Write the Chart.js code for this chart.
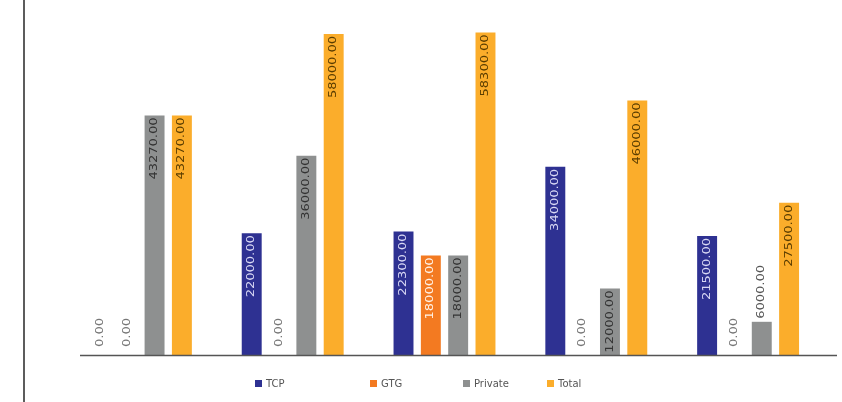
<!DOCTYPE html>
<html lang="en">
<head>
    <meta charset="UTF-8">
    <title>TCP / GTG / Private / Total</title>
    <style>
        body { margin: 0; background: #fff; }
        .wrap { position: relative; width: 842px; height: 402px; }
        .frame { position: absolute; left: 23px; top: 0; width: 2px; height: 402px; background: #5c5c5c; }
    </style>
</head>
<body>
    <div class="wrap">
        <div class="frame"></div>
        <canvas id="grafico"></canvas>
    </div>

    <script src="https://cdn.jsdelivr.net/npm/chart.js"></script>
    <script>
        // Data
        const categorias = ['1', '2', '3', '4', '5'];
        const tcp     = [0, 22000, 22300, 34000, 21500];
        const gtg     = [0, 0, 18000, 0, 0];
        const privado = [43270, 36000, 18000, 12000, 6000];
        const total   = [43270, 58000, 58300, 46000, 27500];

        const cores = ['#2e3192', '#f37a21', '#8e9090', '#fbad2b'];
        const coresTexto = ['#d8d8f4', '#fff2e6', '#333333', '#5a3d00'];
        const legendaX = [255, 370, 463, 547];
        const esticar = 1.3;

        // Vertical value labels inside the top of each bar
        const rotulos = {
            id: 'rotulos',
            afterDatasetsDraw(chart) {
                const ctx = chart.ctx;
                const base = chart.scales.y.getPixelForValue(0);
                chart.data.datasets.forEach((ds, i) => {
                    chart.getDatasetMeta(i).data.forEach((bar, j) => {
                        const v = ds.data[j];
                        const txt = v.toFixed(2);
                        ctx.save();
                        ctx.font = '10px "DejaVu Sans"';
                        ctx.textBaseline = 'middle';
                        const largura = ctx.measureText(txt).width * esticar;
                        if (v === 0) {
                            ctx.translate(bar.x, base - 8);
                            ctx.textAlign = 'left';
                            ctx.fillStyle = '#777';
                        } else if (largura > base - bar.y - 3) {
                            // too short: put it above the bar
                            ctx.translate(bar.x, bar.y - 3);
                            ctx.textAlign = 'left';
                            ctx.fillStyle = '#555';
                        } else {
                            ctx.translate(bar.x, bar.y + 2);
                            ctx.textAlign = 'right';
                            ctx.fillStyle = coresTexto[i];
                        }
                        ctx.rotate(-Math.PI / 2);
                        ctx.scale(esticar, 1);
                        ctx.fillText(txt, 0, 0);
                        ctx.restore();
                    });
                });
            },
            afterDraw(chart) {
                const ctx = chart.ctx;
                const base = chart.scales.y.getPixelForValue(0);
                // baseline
                ctx.save();
                ctx.strokeStyle = '#555';
                ctx.lineWidth = 1.5;
                ctx.beginPath();
                ctx.moveTo(80, base + 0.5);
                ctx.lineTo(837, base + 0.5);
                ctx.stroke();
                // legend
                ctx.font = '10px "DejaVu Sans"';
                ctx.textBaseline = 'middle';
                chart.data.datasets.forEach((ds, i) => {
                    const x = legendaX[i];
                    ctx.fillStyle = ds.backgroundColor;
                    ctx.fillRect(x, 380, 7, 7);
                    ctx.fillStyle = '#555';
                    ctx.fillText(ds.label, x + 11, 384);
                });
                ctx.restore();
            }
        };

        new Chart(document.getElementById('grafico'), {
            type: 'bar',
            data: {
                labels: categorias,
                datasets: [
                    { label: 'TCP', data: tcp, backgroundColor: cores[0] },
                    { label: 'GTG', data: gtg, backgroundColor: cores[1] },
                    { label: 'Private', data: privado, backgroundColor: cores[2] },
                    { label: 'Total', data: total, backgroundColor: cores[3] }
                ]
            },
            options: {
                responsive: true,
                maintainAspectRatio: false,
                animation: false,
                datasets: { bar: { categoryPercentage: 0.72, barPercentage: 0.73 } },
                layout: { padding: { left: 65, right: 18, top: 23, bottom: 47 } },
                plugins: {
                    legend: { display: false },
                    tooltip: { enabled: false }
                },
                scales: {
                    x: { display: false },
                    y: { display: false, min: 0, max: 60000 }
                }
            },
            plugins: [rotulos]
        });
    </script>
</body>
</html>
